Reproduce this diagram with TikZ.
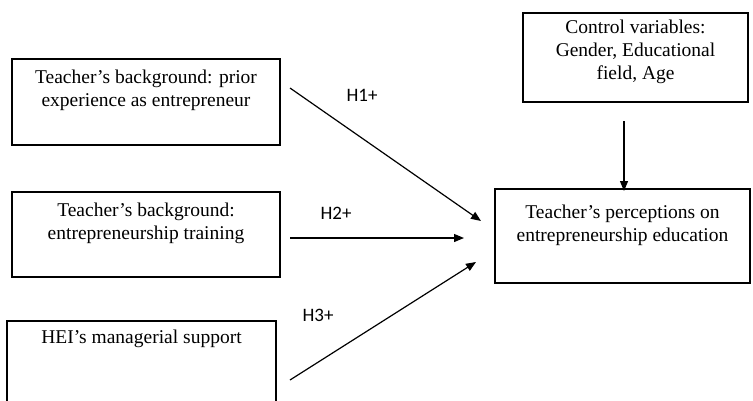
\documentclass[tikz,border=0pt]{standalone}
\usepackage{fontspec}
\setmainfont{Liberation Serif}
\newfontfamily\lblfont{Carlito}
\usetikzlibrary{arrows.meta,calc}
\begin{document}
\begin{tikzpicture}[x=1pt,y=-1pt,
  boxst/.style={draw,line width=1.4pt,rectangle,inner sep=0pt},
  txt/.style={anchor=north,align=center,font=\fontsize{19.5}{23}\selectfont,inner sep=0pt},
  hyp/.style={font=\lblfont\fontsize{19}{20}\selectfont,inner sep=0pt},
  arr/.style={line width=1.2pt,-{Triangle[length=10pt,width=8pt]}}]
\useasboundingbox (0,0) rectangle (753,400);
\clip (0,0) rectangle (753,400);
% boxes
\node[boxst,minimum width=268pt,minimum height=86pt] (b1) at (146,102) {};
\node[boxst,minimum width=268pt,minimum height=85pt] (b2) at (146,234.5) {};
\node[boxst,minimum width=269pt,minimum height=100pt] (b3) at (141.5,371) {};
\node[boxst,minimum width=225pt,minimum height=89pt] (cv) at (635.5,57.5) {};
\node[boxst,minimum width=255pt,minimum height=94pt] (tp) at (622.5,236) {};
% texts
\node[txt] (t1) at ($(b1.north)+(0,11)$) {Teacher’s background: prior\\experience as entrepreneur};
\node[txt] (t2) at ($(b2.north)+(0,11)$) {Teacher’s background:\\entrepreneurship training};
\node[txt] (t3) at ($(b3.north)+(0,9)$) {HEI’s managerial support};
\node[txt] (tcv) at ($(cv.north)+(0,7)$) {Control variables:\\Gender, Educational\\field, Age};
\node[txt] (ttp) at ($(tp.north)+(0,16)$) {Teacher’s perceptions on\\entrepreneurship education};
% arrow end points
\coordinate (s1) at (290,88);
\coordinate (e1) at (481,221);
\coordinate (s2) at (290,238);
\coordinate (e2) at (464,238);
\coordinate (s3) at (290,380);
\coordinate (e3) at (476,262);
\coordinate (sc) at (624,121);
\coordinate (ec) at (624,191);
\draw[arr] (s1) -- (e1);
\draw[arr] (s2) -- (e2);
\draw[arr] (s3) -- (e3);
\draw[arr] (sc) -- (ec);
% labels
\node[hyp] (h1) at (362,95) {H1+};
\node[hyp] (h2) at (336,213) {H2+};
\node[hyp] (h3) at (318,315) {H3+};
\end{tikzpicture}
\end{document}
